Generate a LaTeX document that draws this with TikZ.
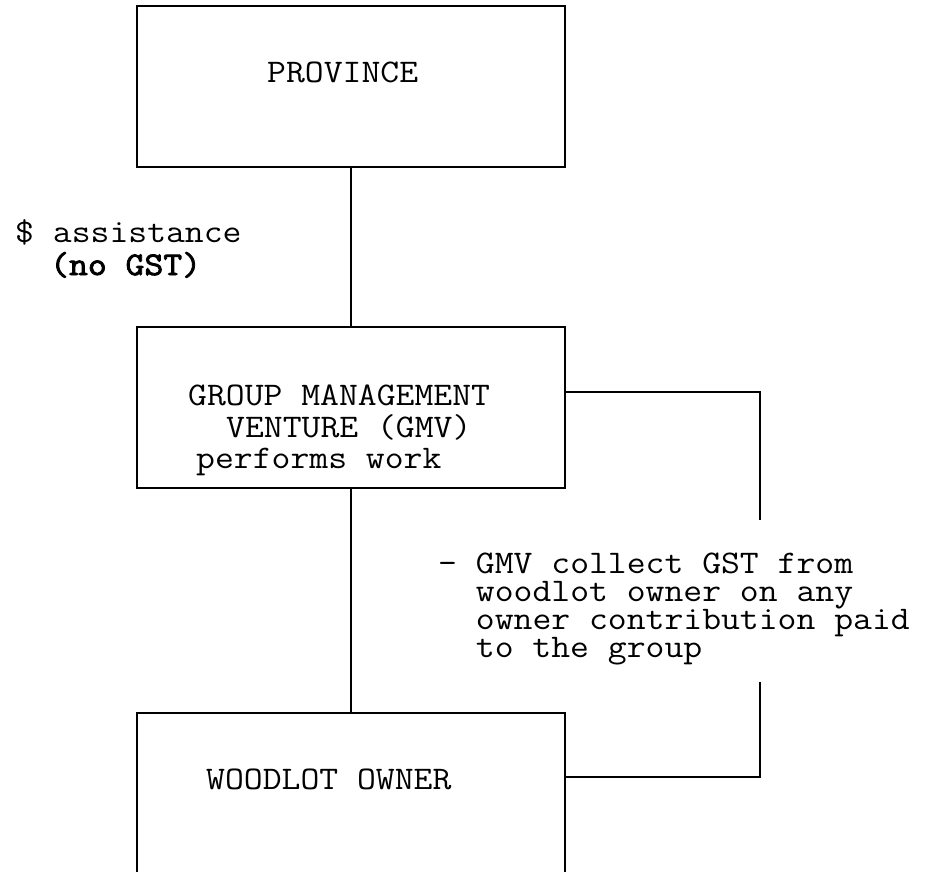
\documentclass[tikz,border=0pt]{standalone}
\usepackage{fontspec}
\newfontfamily\typew{Latin Modern Mono}[FakeStretch=1.11]
\newfontfamily\typewb{Latin Modern Mono}[FakeStretch=1.11,FakeBold=2.5]
\begin{document}
\begin{tikzpicture}[x=1pt,y=-1pt,
  box/.style={draw,line width=1.1pt,rectangle,minimum width=428pt,inner sep=0pt},
  conn/.style={line width=1.1pt},
  txt/.style={anchor=base west,inner sep=0pt,text height=20pt,text depth=6pt,font=\typew\fontsize{33}{36}\selectfont},
  btxt/.style={anchor=base west,inner sep=0pt,text height=20pt,text depth=6pt,font=\typewb\fontsize{33}{36}\selectfont},
  block/.style={anchor=north west,inner sep=0pt,align=left,font=\typew\fontsize{33}{28}\selectfont}]
\useasboundingbox (0,0) rectangle (940,872);
\fill[white] (0,0) rectangle (940,872);
% boxes
\node[box,minimum height=161pt] (prov) at (351,86.5) {};
\node[box,minimum height=161pt] (gmv) at (351,407.5) {};
\node[box,minimum height=166pt] (wood) at (351,796) {};
% texts
\node[txt] (tprov) at (267,83) {PROVINCE};
\node[txt] (tass) at (15,242) {\$ assistance};
\node[btxt] (tno) at (50,275) {(no GST)};
\node[txt] (tg1) at (188,405) {GROUP MANAGEMENT};
\node[txt] (tg2) at (226,437) {VENTURE (GMV)};
\node[txt] (tg3) at (196,468) {performs work};
\node[txt] (twood) at (206,789) {WOODLOT OWNER};
\node[block] (tr) at (438,552.8) {- GMV collect GST from\\
\phantom{-\ }woodlot owner on any\\
\phantom{-\ }owner contribution paid\\
\phantom{-\ }to the group};
% connectors
\draw[conn] (prov) -- (gmv);
\draw[conn] (gmv) -- (wood);
\coordinate (bt) at (760,392);
\coordinate (be1) at (760,520);
\coordinate (be2) at (760,682);
\coordinate (bb) at (760,777);
\draw[conn] (gmv.east |- bt) -- (bt) -- (be1);
\draw[conn] (be2) -- (bb) -- (bb -| wood.east);
\end{tikzpicture}
\end{document}
